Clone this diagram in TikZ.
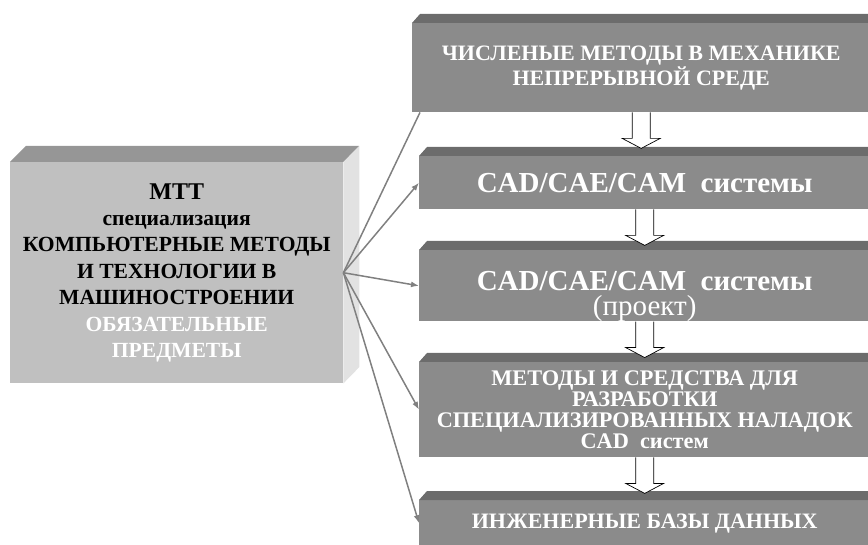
\documentclass[tikz,border=0pt]{standalone}
\usepackage{fontspec}
\setmainfont{Liberation Serif}
\usetikzlibrary{arrows.meta}
\definecolor{slabgray}{RGB}{139,139,139}
\definecolor{slabdark}{RGB}{108,108,108}
\definecolor{corefront}{RGB}{192,192,192}
\definecolor{coretop}{RGB}{150,150,150}
\definecolor{coreside}{RGB}{226,226,226}
\definecolor{linkgray}{RGB}{128,128,128}
\newcommand\slabcap[1]{\fill[slabdark] (#1.north west) -- ++(8,-9) -- ++(470,0) -- (#1.north east) -- cycle;}
\newcommand\stepdown[1]{\draw[hollow] ([xshift=-9pt]#1.south) -- ++(0,26) -- ++(-10,0) -- ++(19,10) -- ++(19,-10) -- ++(-10,0) -- ++(0,-26);}
\begin{document}
\begin{tikzpicture}[x=1pt,y=-1pt,
    slab/.style={fill=slabgray,text=white,align=center,inner sep=0pt,anchor=north west,
      font=\bfseries\fontsize{22}{25}\selectfont},
    core/.style={fill=corefront,align=center,inner sep=0pt,anchor=north west,
      font=\bfseries\fontsize{21.6}{26.4}\selectfont},
    link/.style={draw=linkgray,line width=1.5pt,-{Latex[length=8pt,width=6pt]}},
    hollow/.style={draw=black,fill=white,line width=0.7pt}]
  \useasboundingbox (0,0) rectangle (868,545);
  \clip (0,0) rectangle (868,545);

  \node[core,minimum width=333pt,minimum height=221pt] (mtt) at (10,162)
    {{\fontsize{24}{26.4}\selectfont МТТ}\\специализация\\КОМПЬЮТЕРНЫЕ МЕТОДЫ\\И ТЕХНОЛОГИИ В\\МАШИНОСТРОЕНИИ\\
     \textcolor{white}{ОБЯЗАТЕЛЬНЫЕ}\\\textcolor{white}{ПРЕДМЕТЫ}};
  \fill[coretop] (mtt.north west) -- ++(16,-16) -- ++(333,0) -- (mtt.north east) -- cycle;
  \fill[coreside] (mtt.north east) -- ++(16,-16) -- ++(0,221) -- (mtt.south east) -- cycle;

  \node[slab,minimum width=458pt,minimum height=89pt] (cmm) at (412,23)
    {ЧИСЛЕНЫЕ МЕТОДЫ В МЕХАНИКЕ\\НЕПРЕРЫВНОЙ СРЕДЕ};
  \node[slab,minimum width=451pt,minimum height=53pt,font=\bfseries\fontsize{29}{25}\selectfont] (cax) at (419,156)
    {CAD/CAE/CAM~ системы};
  \node[slab,minimum width=451pt,minimum height=70pt,font=\bfseries\fontsize{29}{25}\selectfont] (caxp) at (419,250)
    {\rule{0pt}{40pt}CAD/CAE/CAM~ системы\\{\mdseries (проект)}};
  \node[slab,minimum width=451pt,minimum height=95pt,font=\bfseries\fontsize{22.3}{21}\selectfont] (cadt) at (419,362)
    {МЕТОДЫ И СРЕДСТВА ДЛЯ\\РАЗРАБОТКИ\\СПЕЦИАЛИЗИРОВАННЫХ НАЛАДОК\\CAD~ систем};
  \node[slab,minimum width=451pt,minimum height=46pt] (edb) at (419,500)
    {ИНЖЕНЕРНЫЕ БАЗЫ ДАННЫХ};
  \slabcap{cmm}
  \slabcap{cax}
  \slabcap{caxp}
  \slabcap{cadt}
  \slabcap{edb}

  \stepdown{cmm}
  \stepdown{cax}
  \stepdown{caxp}
  \stepdown{cadt}

  \begin{scope}[link]
    \draw[-] (mtt.east) to ([xshift=8pt]cmm.south west);
    \draw (mtt.east) to (cax.west);
    \draw (mtt.east) to (caxp.west);
    \draw (mtt.east) to (cadt.west);
    \draw (mtt.east) to (edb.west);
  \end{scope}
\end{tikzpicture}
\end{document}
